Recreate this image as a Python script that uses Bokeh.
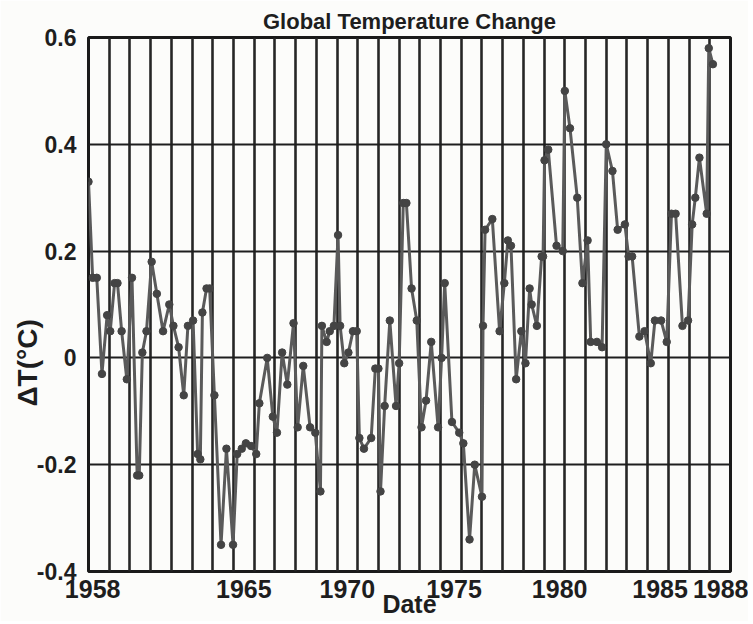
from bokeh.plotting import figure
from bokeh.models import FixedTicker, CustomJSTickFormatter, Title, Range1d
from bokeh.embed import file_html
from bokeh.resources import INLINE

# Seasonal global temperature anomalies (year, deg C)
dates = [
    1958.00, 1958.20, 1958.40, 1958.65, 1958.90, 1959.05, 1959.26, 1959.40, 1959.60, 1959.85,
    1960.10, 1960.35, 1960.45, 1960.60, 1960.80, 1961.05, 1961.30, 1961.60, 1961.90, 1962.10,
    1962.35, 1962.60, 1962.80, 1963.05, 1963.27, 1963.40, 1963.50, 1963.70, 1963.85, 1964.08,
    1964.40, 1964.66, 1964.98, 1965.18, 1965.40, 1965.60, 1965.85, 1966.10, 1966.25, 1966.63,
    1966.90, 1967.10, 1967.35, 1967.60, 1967.90, 1968.10, 1968.37, 1968.70, 1968.95, 1969.20,
    1969.27, 1969.50, 1969.65, 1969.85, 1970.05, 1970.15, 1970.35, 1970.55, 1970.77, 1970.95,
    1971.08, 1971.30, 1971.65, 1971.85, 1972.00, 1972.10, 1972.30, 1972.55, 1972.85, 1973.00,
    1973.20, 1973.35, 1973.60, 1973.85, 1974.08, 1974.30, 1974.55, 1974.88, 1975.05, 1975.20,
    1975.55, 1975.90, 1976.10, 1976.40, 1976.65, 1977.00, 1977.05, 1977.15, 1977.50, 1977.85,
    1978.08, 1978.25, 1978.40, 1978.65, 1978.90, 1979.10, 1979.30, 1979.40, 1979.65, 1979.88,
    1979.95, 1980.02, 1980.20, 1980.60, 1980.90, 1981.00, 1981.25, 1981.60, 1981.85, 1982.10,
    1982.25, 1982.55, 1982.80, 1983.00, 1983.30, 1983.55, 1983.90, 1984.08, 1984.25, 1984.60,
    1984.85, 1985.15, 1985.35, 1985.65, 1985.92, 1986.15, 1986.35, 1986.68, 1986.95, 1987.15,
    1987.30, 1987.50, 1987.85, 1987.95, 1988.15,
]
dT = [
    0.33, 0.15, 0.15, -0.03, 0.08, 0.05, 0.14, 0.14, 0.05, -0.04,
    0.15, -0.22, -0.22, 0.01, 0.05, 0.18, 0.12, 0.05, 0.10, 0.06,
    0.02, -0.07, 0.06, 0.07, -0.18, -0.19, 0.085, 0.13, 0.13, -0.07,
    -0.35, -0.17, -0.35, -0.18, -0.17, -0.16, -0.165, -0.18, -0.085, 0.00,
    -0.11, -0.14, 0.01, -0.05, 0.065, -0.13, -0.015, -0.13, -0.14, -0.25,
    0.06, 0.03, 0.05, 0.06, 0.23, 0.06, -0.01, 0.01, 0.05, 0.05,
    -0.15, -0.17, -0.15, -0.02, -0.02, -0.25, -0.09, 0.07, -0.09, -0.01,
    0.29, 0.29, 0.13, 0.07, -0.13, -0.08, 0.03, -0.13, 0.00, 0.14,
    -0.12, -0.14, -0.16, -0.34, -0.20, -0.26, 0.06, 0.24, 0.26, 0.05,
    0.14, 0.22, 0.21, -0.04, 0.05, -0.01, 0.13, 0.10, 0.06, 0.19,
    0.19, 0.37, 0.39, 0.21, 0.20, 0.50, 0.43, 0.30, 0.14, 0.22,
    0.03, 0.03, 0.02, 0.40, 0.35, 0.24, 0.25, 0.19, 0.19, 0.04,
    0.05, -0.01, 0.07, 0.07, 0.03, 0.27, 0.27, 0.06, 0.07, 0.25,
    0.30, 0.375, 0.27, 0.58, 0.55,
]

tick_years = [1958, 1965, 1970, 1975, 1980, 1985, 1988]
tick_pos = [1958.2, 1965.5, 1970.5, 1975.65, 1980.75, 1985.6, 1988.6]
grid_years = list(range(1958, 1990))
y_ticks = [-0.4, -0.2, 0.0, 0.2, 0.4, 0.6]

FONT = "Liberation Sans"
INK = "#1e1e1e"

p = figure(
    width=748, height=621,
    x_range=Range1d(1958, 1989), y_range=Range1d(-0.4, 0.6),
    output_backend="svg", toolbar_location=None,
    min_border_left=88, min_border_right=18, min_border_top=37, min_border_bottom=50,
    background_fill_color="#fcfcfa", border_fill_color="#fcfcfa",
)

p.title.text = "Global Temperature Change"
p.title.align = "center"
p.title.vertical_align = "bottom"
p.title.standoff = 8
p.title.text_font = FONT
p.title.text_font_size = "22px"
p.title.text_font_style = "bold"
p.title.text_color = INK

# x axis
p.xaxis.ticker = FixedTicker(ticks=tick_pos)
p.xaxis.formatter = CustomJSTickFormatter(
    args=dict(pos=tick_pos, yrs=tick_years),
    code="""
    let best = 0, d = 1e9;
    for (let i = 0; i < pos.length; i++) {
        const e = Math.abs(pos[i] - tick);
        if (e < d) { d = e; best = i; }
    }
    return String(yrs[best]);
    """)
p.xaxis.major_label_text_font = FONT
p.xaxis.major_label_text_font_size = "25px"
p.xaxis.major_label_text_font_style = "bold"
p.xaxis.major_label_text_color = INK
p.xaxis.major_label_standoff = 2
p.xaxis.axis_label = "Date"
p.xaxis.axis_label_text_font = FONT
p.xaxis.axis_label_text_font_size = "25px"
p.xaxis.axis_label_text_font_style = "bold"
p.xaxis.axis_label_text_color = INK
p.xaxis.axis_label_standoff = -11

# y axis
p.yaxis.ticker = FixedTicker(ticks=y_ticks)
p.yaxis.formatter = CustomJSTickFormatter(
    code="return Math.abs(tick) < 1e-9 ? '0' : tick.toFixed(1)")
p.yaxis.major_label_text_font = FONT
p.yaxis.major_label_text_font_size = "23px"
p.yaxis.major_label_text_font_style = "bold"
p.yaxis.major_label_text_color = INK
p.yaxis.major_label_standoff = 6

for ax in (p.xaxis, p.yaxis):
    ax.axis_line_color = None
    ax.major_tick_line_color = None
    ax.minor_tick_line_color = None

ylab = Title(text="ΔT(°C)", align="left", vertical_align="bottom",
             offset=165, standoff=-18,
             text_font=FONT, text_font_size="28px", text_font_style="bold",
             text_color=INK)
p.add_layout(ylab, "left")

# grid
p.xgrid.ticker = FixedTicker(ticks=grid_years)
p.ygrid.ticker = FixedTicker(ticks=y_ticks)
p.xgrid.grid_line_color = "#262626"
p.xgrid.grid_line_width = 2.6
p.ygrid.grid_line_color = "#1e1e1e"
p.ygrid.grid_line_width = 2.2

p.outline_line_color = "#1a1a1a"
p.outline_line_width = 3

# series
p.line(dates, dT, line_color="#5a5a5a", line_width=3)
p.scatter(dates, dT, size=7.5, fill_color="#444444", line_color="#444444")

open("out.html", "w").write(file_html(p, INLINE))
